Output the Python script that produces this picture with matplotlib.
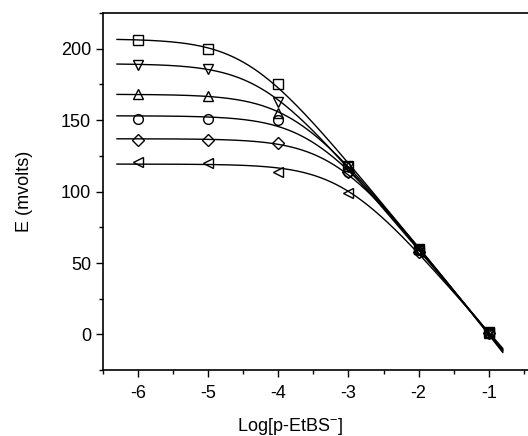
import numpy as np
import matplotlib
matplotlib.use("Agg")
import matplotlib.pyplot as plt
from matplotlib.ticker import MultipleLocator

plt.rcParams['font.family'] = ['Liberation Sans', 'DejaVu Sans']
plt.rcParams['mathtext.fontset'] = 'custom'
plt.rcParams['mathtext.rm'] = 'Liberation Sans'
plt.rcParams['axes.unicode_minus'] = False

log_conc = [-6, -5, -4, -3, -2, -1]

E_square = [206, 200, 175, 118, 60, 2]
E_down = [189, 186, 163, 117, 59, 1]
E_up = [168, 167, 155, 118, 60, 1]
E_circle = [151, 151, 150, 114, 59, 1]
E_diamond = [136, 136, 134, 114, 58, 1]
E_left = [121, 120, 114, 99, 58, 1]

series = [(E_square, 's'), (E_down, 'v'), (E_up, '^'),
          (E_circle, 'o'), (E_diamond, 'D'), (E_left, '<')]


def fit_curve(x, y):
    # E = a - S*log10(10^x + 10^p), grid over p, linear least squares for a, S
    x = np.asarray(x, float)
    y = np.asarray(y, float)
    best = None
    for p in np.linspace(-7, -2, 501):
        g = np.log10(10**x + 10**p)
        A = np.column_stack([np.ones_like(g), -g])
        coef, *_ = np.linalg.lstsq(A, y, rcond=None)
        err = np.sum((A @ coef - y)**2)
        if best is None or err < best[0]:
            best = (err, p, coef)
    _, p, (a, s) = best
    return lambda t: a - s*np.log10(10**t + 10**p)


fig = plt.figure(figsize=(5.28, 4.36), dpi=100)
ax = fig.add_axes([0.195, 0.151, 0.805, 0.819])

xs = np.linspace(-6.3, -0.8, 300)
for vals, m in series:
    f = fit_curve(log_conc, vals)
    ax.plot(xs, f(xs), color='black', lw=1.0)
    ax.plot(log_conc, vals, linestyle='none', marker=m, ms=7 if m != 'D' else 6.5,
            mfc='none', mec='black', mew=1.0)

ax.set_xlim(-6.5, -0.44)
ax.set_ylim(-25, 225)
ax.xaxis.set_major_locator(MultipleLocator(1))
ax.xaxis.set_minor_locator(MultipleLocator(0.5))
ax.yaxis.set_major_locator(MultipleLocator(50))
ax.yaxis.set_minor_locator(MultipleLocator(25))
ax.tick_params(which='both', direction='out', labelsize=13, width=1.0)
ax.tick_params(which='major', length=5)
ax.tick_params(which='minor', length=3)
ax.tick_params(axis='x', pad=6)
ax.spines['right'].set_visible(False)
for s in ['left', 'bottom', 'top']:
    ax.spines[s].set_linewidth(1.2)

ax.set_xlabel(r'Log[p-EtBS$^{-}$]', fontsize=13)
ax.xaxis.set_label_coords(0.44, -0.128)
ax.set_ylabel('E (mvolts)', fontsize=13, labelpad=20)

fig.savefig('out.png', dpi=100)
